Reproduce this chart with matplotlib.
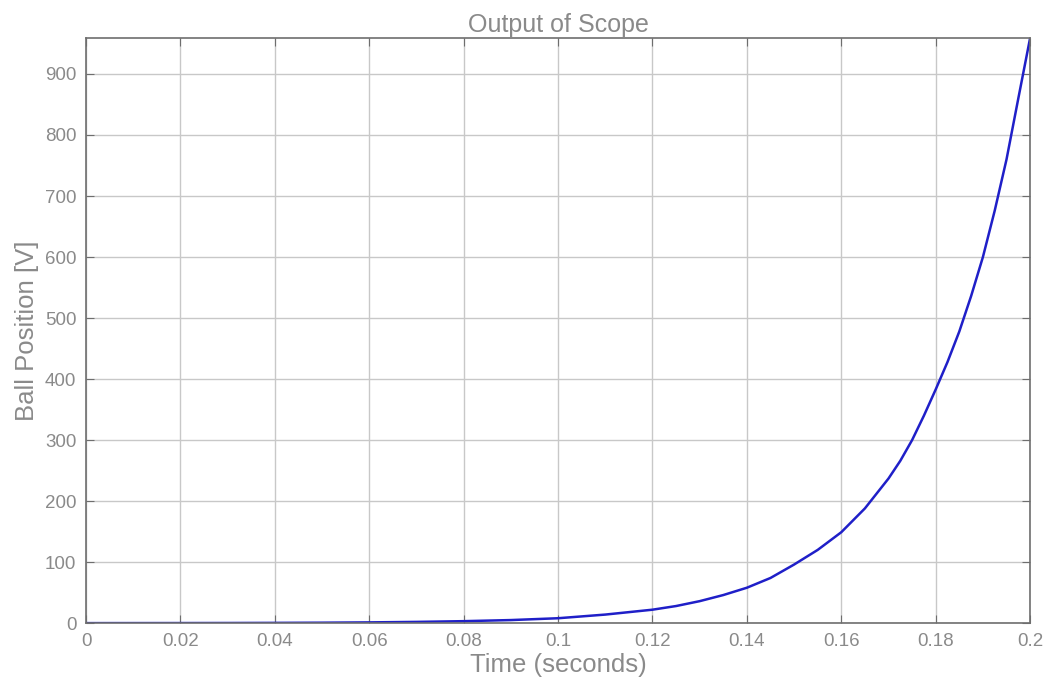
import matplotlib

matplotlib.use("Agg")
import matplotlib.pyplot as plt  # noqa: E402

# values
TIME = [0.0, 0.01, 0.02, 0.03, 0.04, 0.05, 0.06, 0.07, 0.08, 0.09, 0.10,
        0.105, 0.11, 0.115, 0.12, 0.125, 0.13, 0.135, 0.14, 0.145, 0.15,
        0.155, 0.16, 0.165, 0.17, 0.1725, 0.175, 0.1775, 0.18, 0.1825,
        0.185, 0.1875, 0.19, 0.1925, 0.195, 0.1975, 0.2]
POSITION = [0.0, 0.05, 0.1, 0.2, 0.4, 0.7, 1.2, 2.0, 3.2, 5.0, 8.0,
            11, 14, 18, 22, 28, 36, 46, 58, 74, 96,
            120, 149, 188, 237, 266, 300, 340, 383, 428,
            478, 536, 600, 676, 760, 860, 959]
XTICKS = [0, 0.02, 0.04, 0.06, 0.08, 0.1, 0.12, 0.14, 0.16, 0.18, 0.2]
XTICKLABELS = ["0", "0.02", "0.04", "0.06", "0.08", "0.1", "0.12", "0.14",
               "0.16", "0.18", "0.2"]
YTICKS = list(range(0, 1000, 100))

TEXT = "#8a8a8a"
plt.rcParams["font.family"] = ["Liberation Sans", "DejaVu Sans"]

fig = plt.figure(figsize=(10.49, 6.97), dpi=100)
ax = fig.add_axes([0.082, 0.106, 0.900, 0.8395])
ax.plot(TIME, POSITION, color="#1f1fc8", lw=1.8)
ax.set_xlim(0, 0.2)
ax.set_ylim(0, 959)
ax.set_xticks(XTICKS)
ax.set_xticklabels(XTICKLABELS)
ax.set_yticks(YTICKS)
ax.grid(True, color="#c8c8c8", lw=1.0)
ax.tick_params(direction="in", top=True, right=True, length=6,
               colors="#6e6e6e", labelcolor=TEXT, labelsize=13.5, pad=7)
for s in ax.spines.values():
    s.set_color("#6e6e6e")
    s.set_linewidth(1.2)
ax.set_xlabel("Time (seconds)", color=TEXT, fontsize=18.5, labelpad=2)
ax.set_ylabel("Ball Position [V]", color=TEXT, fontsize=18.5, labelpad=4)
ax.set_title("Output of Scope", color=TEXT, fontsize=18, pad=4)
fig.savefig("out.png", dpi=100)
